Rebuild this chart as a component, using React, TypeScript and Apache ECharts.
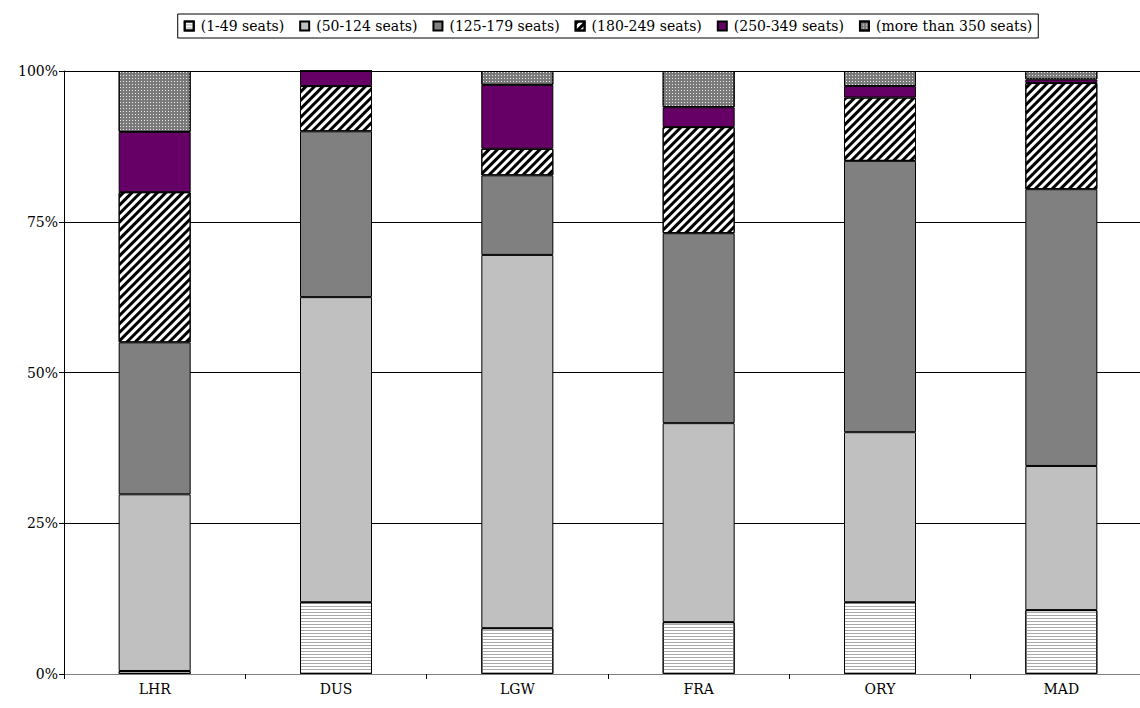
import React, { useEffect, useRef } from "react";
import * as echarts from "echarts";

const categories = ["LHR", "DUS", "LGW", "FRA", "ORY", "MAD"];
const seriesNames = [
  "(1-49 seats)",
  "(50-124 seats)",
  "(125-179 seats)",
  "(180-249 seats)",
  "(250-349 seats)",
  "(more than 350 seats)",
];
const seats1to49 = [0.5, 11.9, 7.6, 8.6, 11.9, 10.6];
const seats50to124 = [29.3, 50.6, 61.9, 33.0, 28.2, 23.9];
const seats125to179 = [25.2, 27.5, 13.2, 31.5, 45.0, 45.9];
const seats180to249 = [24.9, 7.5, 4.4, 17.6, 10.5, 17.6];
const seats250to349 = [10.0, 2.5, 10.6, 3.3, 1.9, 0.6];
const seatsOver350 = [10.1, 0.0, 2.3, 6.0, 2.5, 1.4];
const yTicks = [0, 25, 50, 75, 100];

const FONT = "DejaVu Serif";

export default function App() {
  const ref = useRef<HTMLDivElement>(null);
  useEffect(() => {
    if (!ref.current) return;
    const chart = echarts.init(ref.current, null, { renderer: "svg" });
    const values = [seats1to49, seats50to124, seats125to179, seats180to249, seats250to349, seatsOver350];
    const styles: any[] = [
      {
        color: "#ffffff",
        decal: {
          symbol: "rect",
          color: "#a8a8a8",
          backgroundColor: "#f4f4f4",
          dashArrayX: [1, 0],
          dashArrayY: [1, 2],
          symbolSize: 1,
          rotation: 0,
        },
      },
      { color: "#c0c0c0" },
      { color: "#808080" },
      {
        color: "#ffffff",
        decal: {
          symbol: "rect",
          color: "#000000",
          backgroundColor: "#ffffff",
          dashArrayX: [1, 0],
          dashArrayY: [3, 3],
          symbolSize: 1,
          rotation: -Math.PI / 4,
        },
      },
      { color: "#660066" },
      {
        color: "#7a7a7a",
        decal: {
          symbol: "rect",
          color: "#e8e8e8",
          backgroundColor: "#767676",
          dashArrayX: [1, 2],
          dashArrayY: [1, 2],
          symbolSize: 1,
          rotation: 0,
        },
      },
    ];
    const series = seriesNames.map((name, i) => ({
      name,
      type: "bar",
      stack: "total",
      barWidth: 72,
      data: values[i],
      itemStyle: { ...styles[i], borderColor: "#000", borderWidth: 1 },
      emphasis: { disabled: true },
    }));
    chart.setOption({
      animation: false,
      aria: { enabled: false, decal: { show: true } },
      textStyle: { fontFamily: FONT },
      legend: {
        top: 14,
        left: "center",
        data: seriesNames,
        icon: "rect",
        borderColor: "#000",
        borderWidth: 1,
        padding: [5, 6, 5, 6],
        itemWidth: 9,
        itemHeight: 9,
        itemGap: 15,
        textStyle: { fontFamily: FONT, fontSize: 14, color: "#000", padding: [0, 0, 0, 2] },
      },
      grid: { left: 64, top: 71, right: 64, height: 603, containLabel: false },
      xAxis: {
        type: "category",
        data: categories,
        boundaryGap: true,
        axisLine: { lineStyle: { color: "#808080", width: 1 } },
        axisTick: { show: true, length: 5, lineStyle: { color: "#000" } },
        axisLabel: { color: "#000", fontFamily: FONT, fontSize: 14, margin: 8 },
      },
      yAxis: {
        type: "value",
        min: 0,
        max: 100,
        interval: 25,
        axisLine: { show: true, lineStyle: { color: "#000" } },
        axisTick: { show: true, length: 5, lineStyle: { color: "#000" } },
        axisLabel: {
          color: "#000",
          fontFamily: FONT,
          fontSize: 14,
          margin: 6,
          formatter: (v: number) => (yTicks.includes(v) ? v + "%" : ""),
        },
        splitLine: { show: true, lineStyle: { color: "#000", width: 1 } },
      },
      series,
    });
    return () => chart.dispose();
  }, []);
  return (
    <div style={{ position: "absolute", left: 0, top: 0, width: 1140, height: 708, overflow: "hidden", background: "#fff" }}>
      <div ref={ref} style={{ width: 1216, height: 708 }} />
    </div>
  );
}
